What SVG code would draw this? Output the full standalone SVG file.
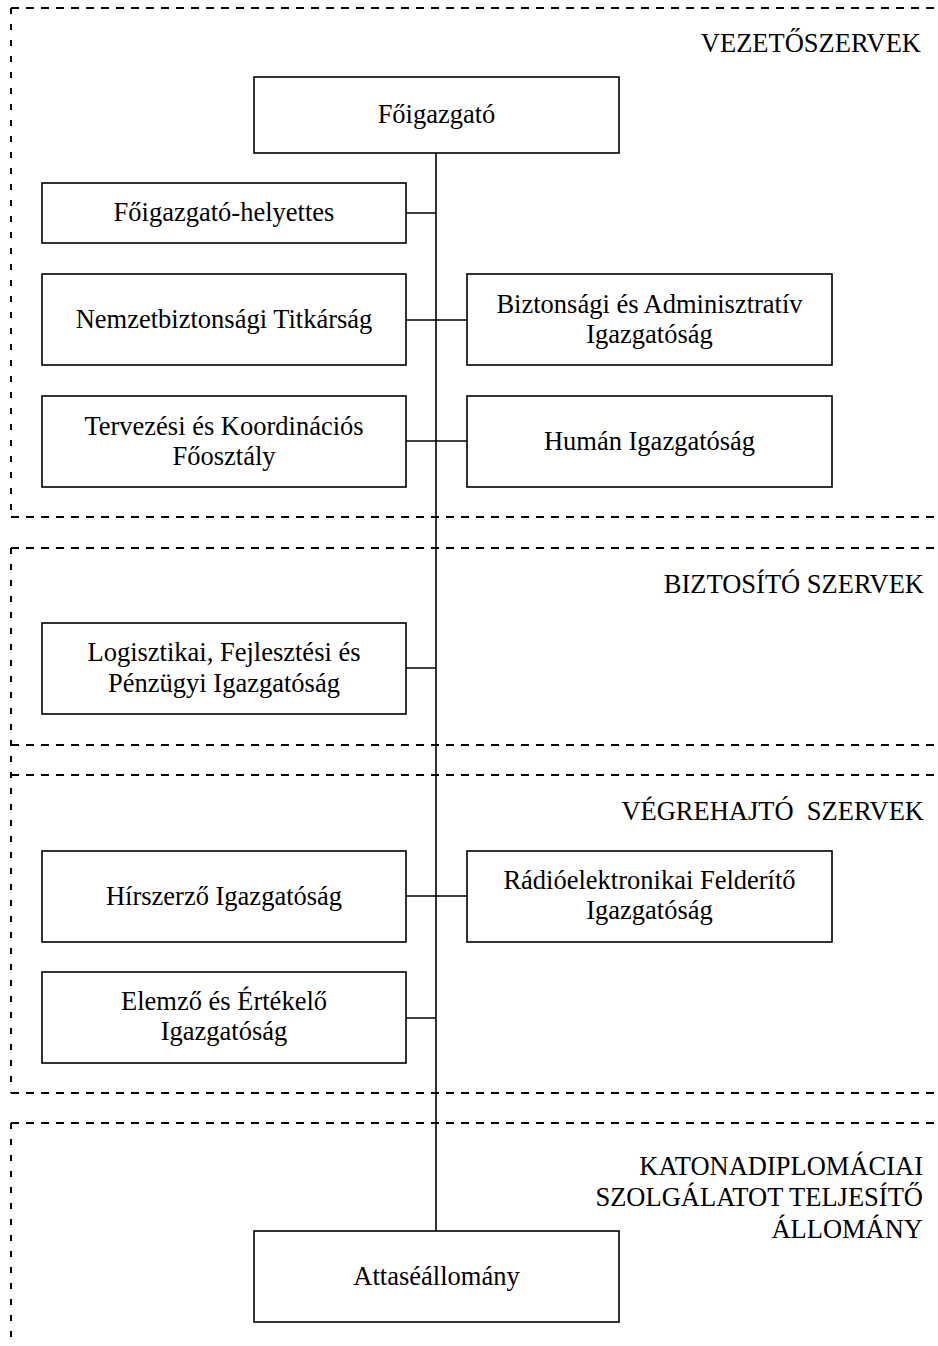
<svg xmlns="http://www.w3.org/2000/svg" width="938" height="1346" viewBox="0 0 938 1346">
<style>
.bg{fill:#fff}
.box{fill:#fff;stroke:#000;stroke-width:1.6}
.t{font-family:"Liberation Serif","Times New Roman",serif;font-size:26.5px;fill:#000;text-anchor:middle}
.lbl{font-family:"Liberation Serif","Times New Roman",serif;font-size:26.5px;fill:#000;text-anchor:end;white-space:pre}
.dh{fill:none;stroke:#000;stroke-width:2;stroke-dasharray:8 7}
.dv{fill:none;stroke:#000;stroke-width:2;stroke-dasharray:6 10}
.con{fill:none;stroke:#000;stroke-width:1.6}
</style>
<rect class="bg" x="0" y="0" width="938" height="1346"/>
<g id="sections">
<path class="dh" d="M11 8H938M11 517H938M11 548H938M11 745H938M11 775H938M11 1093H938M11 1123H938"/>
<path class="dv" d="M11 8V517M11 548V1093M11 1123V1346"/>
<text class="lbl" x="921" y="52">VEZETŐSZERVEK</text>
<text class="lbl" x="924" y="593">BIZTOSÍTÓ SZERVEK</text>
<text class="lbl" x="924" y="820">VÉGREHAJTÓ  SZERVEK</text>
<text class="lbl" x="923" y="1175">KATONADIPLOMÁCIAI</text>
<text class="lbl" x="923" y="1206">SZOLGÁLATOT TELJESÍTŐ</text>
<text class="lbl" x="923" y="1238">ÁLLOMÁNY</text>
</g>
<g id="connectors">
<path class="con" d="M436 153V1231M406 213H436M406 320H467M406 441H467M406 668H436M406 896H467M406 1018H436"/>
</g>
<g id="foigazgato"><rect class="box" x="254" y="77" width="365" height="76"/><text class="t" x="436.5" y="123">Főigazgató</text></g>
<g id="helyettes"><rect class="box" x="42" y="183" width="364" height="60"/><text class="t" x="224" y="221">Főigazgató-helyettes</text></g>
<g id="titkarsag"><rect class="box" x="42" y="274" width="364" height="91"/><text class="t" x="224" y="328">Nemzetbiztonsági Titkárság</text></g>
<g id="biztonsagi"><rect class="box" x="467" y="274" width="365" height="91"/><text class="t" x="649.5" y="313">Biztonsági és Adminisztratív</text><text class="t" x="649.5" y="343">Igazgatóság</text></g>
<g id="tervezesi"><rect class="box" x="42" y="396" width="364" height="91"/><text class="t" x="224" y="435">Tervezési és Koordinációs</text><text class="t" x="224" y="465">Főosztály</text></g>
<g id="human"><rect class="box" x="467" y="396" width="365" height="91"/><text class="t" x="649.5" y="450">Humán Igazgatóság</text></g>
<g id="logisztikai"><rect class="box" x="42" y="623" width="364" height="91"/><text class="t" x="224" y="661">Logisztikai, Fejlesztési és</text><text class="t" x="224" y="692">Pénzügyi Igazgatóság</text></g>
<g id="hirszerzo"><rect class="box" x="42" y="851" width="364" height="91"/><text class="t" x="224" y="905">Hírszerző Igazgatóság</text></g>
<g id="radioelektronikai"><rect class="box" x="467" y="851" width="365" height="91"/><text class="t" x="649.5" y="889">Rádióelektronikai Felderítő</text><text class="t" x="649.5" y="919">Igazgatóság</text></g>
<g id="elemzo"><rect class="box" x="42" y="972" width="364" height="91"/><text class="t" x="224" y="1010">Elemző és Értékelő</text><text class="t" x="224" y="1040">Igazgatóság</text></g>
<g id="attase"><rect class="box" x="254" y="1231" width="365" height="91"/><text class="t" x="436.5" y="1285">Attaséállomány</text></g>
</svg>
